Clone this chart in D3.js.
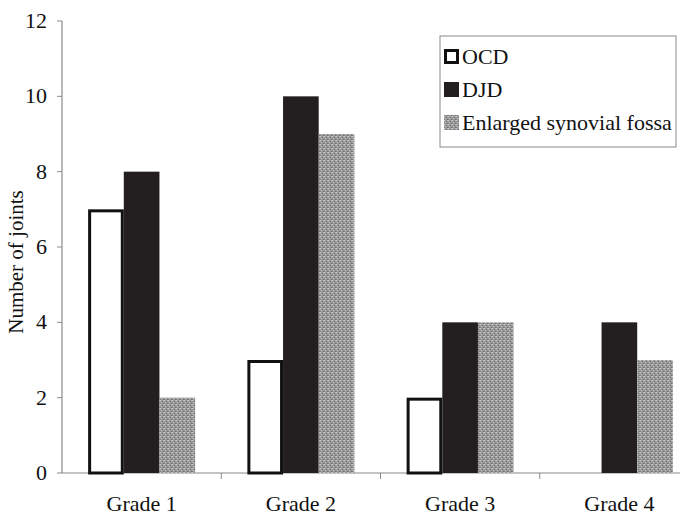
<!DOCTYPE html>
<html>
<head>
<meta charset="utf-8">
<script src="https://cdn.jsdelivr.net/npm/d3@7.9.0/dist/d3.min.js"></script>
<style>
  body { margin: 0; background: #fff; }
</style>
</head>
<body>
<svg id="chart" width="680" height="516"></svg>
<script>
const grades = ['Grade 1', 'Grade 2', 'Grade 3', 'Grade 4'];
const seriesNames = ['OCD', 'DJD', 'Enlarged synovial fossa'];
const ocd = [7, 3, 2, 0];
const djd = [8, 10, 4, 4];
const fossa = [2, 9, 4, 3];
const yTicks = [0, 2, 4, 6, 8, 10, 12];

const FONT = "'Liberation Serif', 'Times New Roman', serif";
const svg = d3.select('#chart');

// dotted grey texture for the fossa bars
const defs = svg.append('defs');
const pat = defs.append('pattern')
  .attr('id', 'stipple')
  .attr('width', 4).attr('height', 4)
  .attr('patternUnits', 'userSpaceOnUse');
pat.append('rect').attr('width', 4).attr('height', 4).attr('fill', '#9a9a9a');
[[0, 0, '#cfcfcf'], [2, 1, '#6e6e6e'], [1, 2, '#c4c4c4'], [3, 3, '#707070'], [3, 0, '#b8b8b8'], [0, 3, '#808080']]
  .forEach(([x, y, c]) => pat.append('rect').attr('x', x).attr('y', y).attr('width', 1).attr('height', 1).attr('fill', c));

const x0 = d3.scaleBand().domain(grades).range([62, 699]).paddingInner(0).paddingOuter(0);
const y = d3.scaleLinear().domain([0, 12]).range([473, 21]);

const groupW = 107;
const x1 = d3.scaleBand().domain(seriesNames).range([0, groupW]).padding(0);

const fills = { 'OCD': '#fff', 'DJD': '#231f20', 'Enlarged synovial fossa': 'url(#stipple)' };

// axes
svg.append('line').attr('x1', 62).attr('x2', 62).attr('y1', y(12)).attr('y2', y(0))
  .attr('stroke', '#8a8a8a').attr('stroke-width', 1.2);
svg.append('line').attr('x1', 62).attr('x2', 680).attr('y1', y(0)).attr('y2', y(0))
  .attr('stroke', '#8a8a8a').attr('stroke-width', 1.2);

yTicks.forEach(t => {
  svg.append('line').attr('x1', 57).attr('x2', 62).attr('y1', y(t)).attr('y2', y(t))
    .attr('stroke', '#8a8a8a').attr('stroke-width', 1);
  svg.append('text').attr('x', 47).attr('y', y(t)).attr('dy', '0.32em')
    .attr('text-anchor', 'end').attr('font-family', FONT).attr('font-size', 22).attr('fill', '#111').text(t);
});

grades.slice(1).forEach(g => {
  svg.append('line').attr('x1', x0(g)).attr('x2', x0(g)).attr('y1', y(0)).attr('y2', y(0) + 6)
    .attr('stroke', '#8a8a8a').attr('stroke-width', 1);
});

grades.forEach(g => {
  svg.append('text').attr('x', x0(g) + x0.bandwidth() / 2).attr('y', 511)
    .attr('text-anchor', 'middle').attr('font-family', FONT).attr('font-size', 22).attr('fill', '#111').text(g);
});

svg.append('text')
  .attr('transform', `translate(23,${(y(0) + y(12)) / 2 + 15}) rotate(-90)`)
  .attr('text-anchor', 'middle').attr('font-family', FONT).attr('font-size', 21).attr('fill', '#111')
  .text('Number of joints');

// bars
const series = [ocd, djd, fossa];
grades.forEach((g, gi) => {
  const gx = x0(g) + (x0.bandwidth() - groupW) / 2;
  seriesNames.forEach((s, si) => {
    const v = series[si][gi];
    if (v === 0) return;
    const r = svg.append('rect')
      .attr('x', gx + x1(s)).attr('y', y(v))
      .attr('width', x1.bandwidth()).attr('height', y(0) - y(v))
      .attr('fill', fills[s]);
    if (s === 'OCD') {
      r.attr('x', gx + x1(s) + 1.5).attr('y', y(v) + 1.5)
        .attr('width', x1.bandwidth() - 3).attr('height', y(0) - y(v) - 1.5)
        .attr('stroke', '#111').attr('stroke-width', 3);
    }
  });
});

// legend
const lg = svg.append('g');
lg.append('rect').attr('x', 440).attr('y', 36).attr('width', 236).attr('height', 111)
  .attr('fill', '#fff').attr('stroke', '#8a8a8a').attr('stroke-width', 1);
seriesNames.forEach((s, i) => {
  const by = 64 + i * 33;
  const sw = lg.append('rect').attr('x', 444).attr('y', by - 15).attr('width', 15).attr('height', 15)
    .attr('fill', fills[s]);
  if (s === 'OCD') sw.attr('x', 445.5).attr('y', by - 13.5).attr('width', 12).attr('height', 12)
    .attr('stroke', '#111').attr('stroke-width', 3);
  lg.append('text').attr('x', 462).attr('y', by).attr('font-family', FONT).attr('font-size', 22)
    .attr('fill', '#111').text(s);
});
</script>
</body>
</html>
